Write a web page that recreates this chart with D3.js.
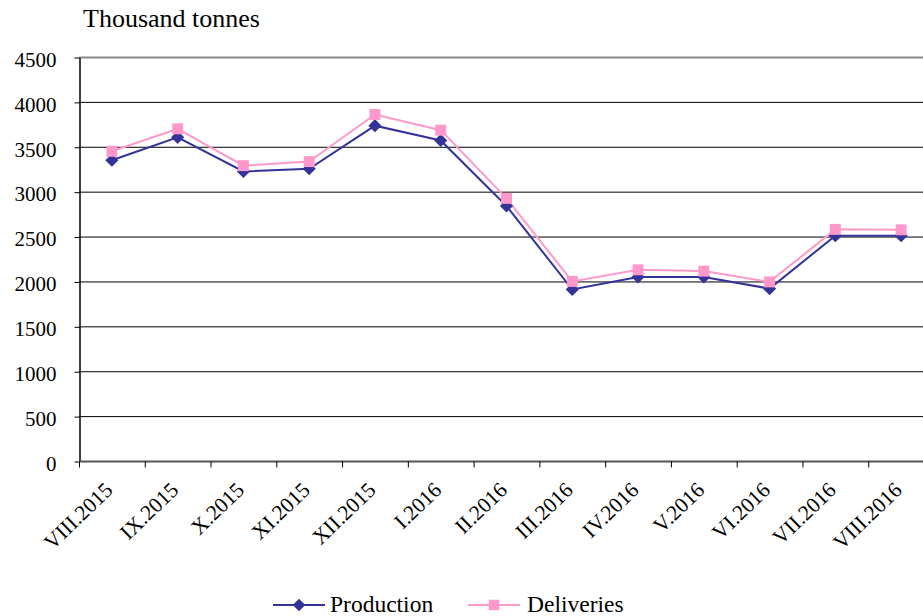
<!DOCTYPE html>
<html>
<head>
<meta charset="utf-8">
<script src="https://cdn.jsdelivr.net/npm/d3@7"></script>
<style>
  body { margin: 0; background: #fff; }
  text { font-family: "Liberation Serif", "Times New Roman", serif; fill: #000; }
</style>
</head>
<body>
<div id="chart"></div>
<script>
const months = ['VIII.2015', 'IX.2015', 'X.2015', 'XI.2015', 'XII.2015', 'I.2016', 'II.2016',
    'III.2016', 'IV.2016', 'V.2016', 'VI.2016', 'VII.2016', 'VIII.2016'];
const production = [3350, 3605, 3225, 3255, 3735, 3570, 2840, 1910, 2050, 2050, 1920, 2510, 2510];
const deliveries = [3450, 3700, 3290, 3335, 3860, 3685, 2925, 2000, 2130, 2115, 1995, 2580, 2575];
const yTicks = [0, 500, 1000, 1500, 2000, 2500, 3000, 3500, 4000, 4500];

const width = 923, height = 616;
const margin = { top: 57, right: -11, bottom: 155, left: 79 };

const svg = d3.select('#chart').append('svg')
    .attr('width', width)
    .attr('height', height);

const x = d3.scaleBand()
    .domain(months)
    .range([margin.left, width - margin.right]);

const y = d3.scaleLinear()
    .domain([0, 4500])
    .range([height - margin.bottom, margin.top]);

// gridlines
svg.append('g')
    .selectAll('line')
    .data(yTicks.slice(1))
    .join('line')
    .attr('x1', margin.left)
    .attr('x2', width)
    .attr('y1', d => y(d) + 0.5)
    .attr('y2', d => y(d) + 0.5)
    .attr('stroke', d => d === 4500 ? '#888' : '#000')
    .attr('stroke-width', d => d === 4500 ? 1.8 : 1);

// y axis
const yAxis = svg.append('g')
    .attr('transform', `translate(${margin.left + 0.5},0.5)`)
    .call(d3.axisLeft(y).tickValues(yTicks).tickFormat(d3.format('d')).tickSize(5).tickSizeOuter(0));
yAxis.select('.domain').attr('stroke', '#000').attr('stroke-width', 1.5);
yAxis.selectAll('.tick line').attr('stroke', '#000');
yAxis.selectAll('.tick text')
    .attr('x', -23)
    .attr('dy', '0.42em')
    .style('font-size', '21px')
    .style('font-family', '"Liberation Serif", serif');

// x axis
const xAxis = svg.append('g')
    .attr('transform', `translate(0,${height - margin.bottom + 0.5})`);
xAxis.append('line')
    .attr('x1', margin.left)
    .attr('x2', width)
    .attr('stroke', '#555')
    .attr('stroke-width', 1.8);
xAxis.selectAll('.tk')
    .data(months)
    .join('line')
    .attr('class', 'tk')
    .attr('x1', d => x(d) + 0.5)
    .attr('x2', d => x(d) + 0.5)
    .attr('y1', 0)
    .attr('y2', 6)
    .attr('stroke', '#000');
xAxis.selectAll('text')
    .data(months)
    .join('text')
    .attr('text-anchor', 'end')
    .attr('transform', d => `translate(${x(d) + x.bandwidth() / 2 + 2},${30}) rotate(-44)`)
    .style('font-size', '21.5px')
    .text(d => d);

// title
svg.append('text')
    .attr('x', 83)
    .attr('y', 27)
    .style('font-size', '26px')
    .text('Thousand tonnes');

const cx = d => x(d) + x.bandwidth() / 2;

const line = d3.line()
    .x((d, i) => cx(months[i]))
    .y(d => y(d));

const diamond = d3.symbolDiamond2 || d3.symbolDiamond;
const series = [
    { name: 'Production', values: production, color: '#333399', symbol: diamond, size: 110 },
    { name: 'Deliveries', values: deliveries, color: '#FF99CC', symbol: d3.symbolSquare, size: 120 }
];

series.forEach(s => {
    svg.append('path')
        .datum(s.values)
        .attr('fill', 'none')
        .attr('stroke', s.color)
        .attr('stroke-width', 2)
        .attr('d', line);
});

series.forEach(s => {
    svg.append('g')
        .selectAll('path')
        .data(s.values)
        .join('path')
        .attr('transform', (d, i) => `translate(${cx(months[i])},${y(d)})`)
        .attr('fill', s.color)
        .attr('d', d3.symbol().type(s.symbol).size(s.size));
});

// legend
const legendPos = [{ x: 273, tx: 330 }, { x: 468, tx: 527 }];
series.forEach((s, i) => {
    const g = svg.append('g').attr('transform', `translate(${legendPos[i].x},605)`);
    g.append('line')
        .attr('x1', 0).attr('x2', 52)
        .attr('stroke', s.color).attr('stroke-width', 2);
    g.append('path')
        .attr('transform', 'translate(26,0)')
        .attr('fill', s.color)
        .attr('d', d3.symbol().type(s.symbol).size(s.size - 10));
    svg.append('text')
        .attr('x', legendPos[i].tx)
        .attr('y', 612)
        .style('font-size', '23.5px')
        .text(s.name);
});
</script>
</body>
</html>
